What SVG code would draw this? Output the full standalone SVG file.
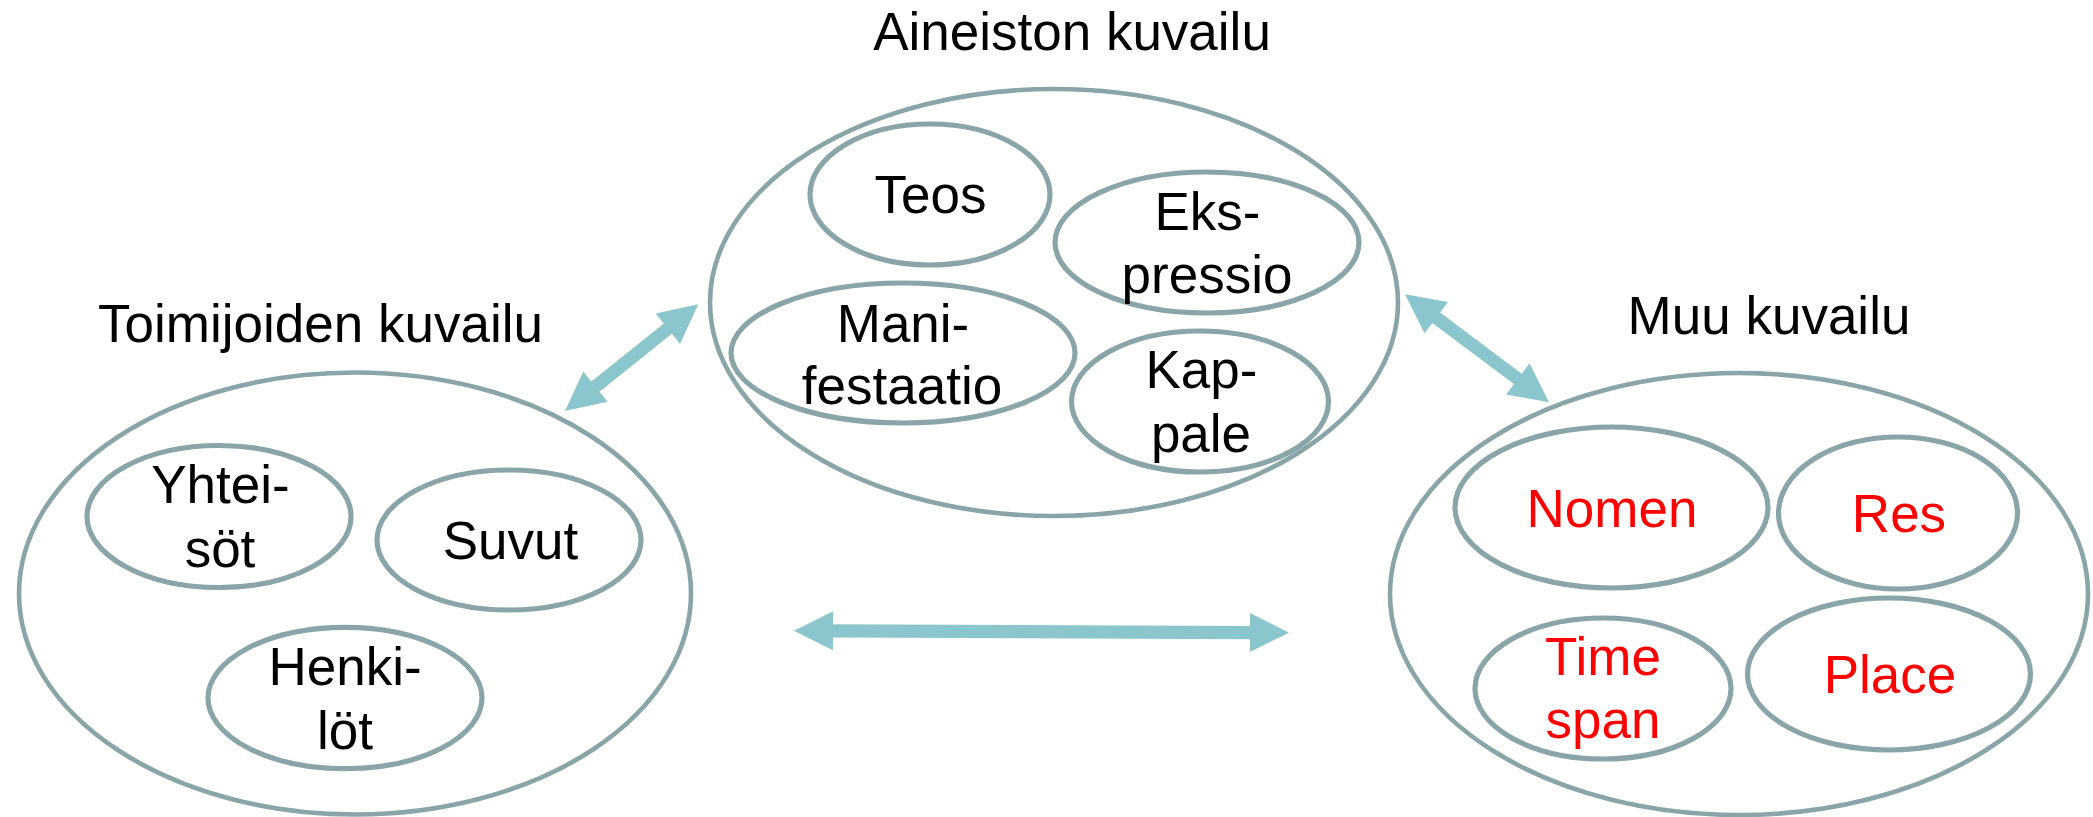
<svg xmlns="http://www.w3.org/2000/svg" width="2093" height="817" viewBox="0 0 2093 817">
<style>
.outer{fill:none;stroke:#89A5A8;stroke-width:4.6}
.inner{fill:none;stroke:#89A5A8;stroke-width:5.2}
.t{font-family:"Liberation Sans",Arial,sans-serif;font-size:53px;text-anchor:middle;fill:#000}
.r{fill:#FF0000}
.arr{fill:#8BC6CD;stroke:none}
</style>
<rect width="2093" height="817" fill="#fff"/>
<g id="aineiston">
<ellipse class="outer" cx="1054" cy="302.5" rx="344" ry="213.5"/>
<text class="t" x="1072" y="50">Aineiston kuvailu</text>
</g>
<g id="teos">
<ellipse class="inner" cx="930" cy="194.5" rx="120" ry="70.5"/>
<text class="t" x="930.5" y="213">Teos</text>
</g>
<g id="ekspressio">
<ellipse class="inner" cx="1207" cy="242.5" rx="152" ry="70.5"/>
<text class="t" x="1207.5" y="230">Eks-</text>
<text class="t" x="1207" y="293">pressio</text>
</g>
<g id="manifestaatio">
<ellipse class="inner" cx="903" cy="353" rx="172" ry="70"/>
<text class="t" x="903" y="342">Mani-</text>
<text class="t" x="902" y="404">festaatio</text>
</g>
<g id="kappale">
<ellipse class="inner" cx="1200" cy="401.5" rx="128.5" ry="70.5"/>
<text class="t" x="1201.5" y="388">Kap-</text>
<text class="t" x="1201" y="452">pale</text>
</g>
<g id="toimijoiden">
<ellipse class="outer" cx="355" cy="593.5" rx="336" ry="221"/>
<text class="t" x="320.5" y="342">Toimijoiden kuvailu</text>
</g>
<g id="yhteisot">
<ellipse class="inner" cx="219" cy="516.5" rx="132" ry="71"/>
<text class="t" x="220.5" y="503">Yhtei-</text>
<text class="t" x="220" y="567">söt</text>
</g>
<g id="suvut">
<ellipse class="inner" cx="509" cy="540" rx="132" ry="70"/>
<text class="t" x="510.5" y="559">Suvut</text>
</g>
<g id="henkilot">
<ellipse class="inner" cx="345" cy="698" rx="137" ry="70.7"/>
<text class="t" x="345" y="685">Henki-</text>
<text class="t" x="345" y="749">löt</text>
</g>
<g id="muu">
<ellipse class="outer" cx="1739" cy="594" rx="349" ry="221"/>
<text class="t" x="1769" y="334">Muu kuvailu</text>
</g>
<g id="nomen">
<ellipse class="inner" cx="1611.5" cy="507.5" rx="156.5" ry="80.5"/>
<text class="t r" x="1612" y="527">Nomen</text>
</g>
<g id="res">
<ellipse class="inner" cx="1898" cy="513" rx="119.5" ry="76"/>
<text class="t r" x="1899" y="532">Res</text>
</g>
<g id="timespan">
<ellipse class="inner" cx="1603" cy="688.5" rx="128" ry="70.5"/>
<text class="t r" x="1603" y="675">Time</text>
<text class="t r" x="1603" y="738">span</text>
</g>
<g id="place">
<ellipse class="inner" cx="1889" cy="674" rx="141.5" ry="76"/>
<text class="t r" x="1890" y="693">Place</text>
</g>
<g id="connectors">
<polygon class="arr" points="565,411 607.65,401.85 599.52,391.7 671.9,333.76 680.03,343.91 698.3,304.3 655.65,313.45 663.78,323.6 591.4,381.54 583.27,371.39"/>
<polygon class="arr" points="1405,294.3 1424.5,333.3 1432.3,322.9 1513.9,384.1 1506.1,394.5 1549,402.3 1529.5,363.3 1521.7,373.7 1440.1,312.5 1447.9,302.1"/>
<polygon class="arr" points="794,630.7 832.92,650.36 832.97,637.46 1249.97,639.14 1249.92,652.04 1289,632.7 1250.08,613.04 1250.03,625.94 833.03,624.26 833.08,611.36"/>
</g>
</svg>
